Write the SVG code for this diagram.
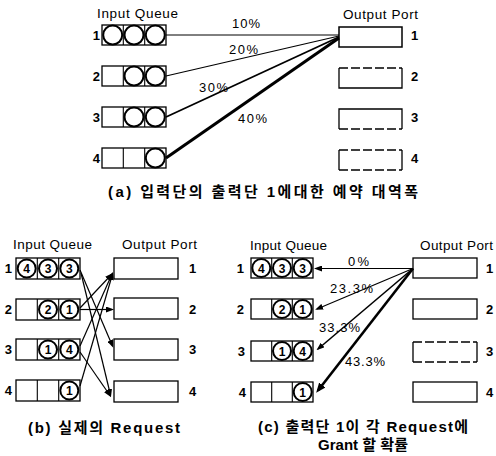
<svg xmlns="http://www.w3.org/2000/svg" width="496" height="456" viewBox="0 0 496 456">
  <style>
    text { font-family: "Liberation Sans", Arial, "Noto Sans CJK KR", sans-serif; fill: #000; }
    .hdr { font-size: 13.5px; }
    .num { font-size: 13px; font-weight: bold; }
    .lnum { font-size: 13px; font-weight: bold; text-anchor: end; }
    .pct { font-size: 13px; }
    .dig { font-size: 12px; font-weight: bold; text-anchor: middle; }
    .cap { font-family: "Liberation Sans", Arial, "Noto Sans CJK KR", sans-serif; font-size: 15px; font-weight: bold; }
    .box { fill: #fff; stroke: #000; stroke-width: 1.3; }
    .div { stroke: #000; stroke-width: 1.1; }
    .cir { fill: #fff; stroke: #000; stroke-width: 2; }
    .edge { fill: none; stroke: #000; stroke-width: 1.3; }
    .dash { fill: none; stroke: #000; stroke-width: 1.3; stroke-dasharray: 9 3; }
    .ln { fill: none; stroke: #000; stroke-linecap: butt; }
  </style>
  <defs>
    <marker id="ah" markerUnits="userSpaceOnUse" markerWidth="8" markerHeight="6" refX="6" refY="3" orient="auto">
      <path d="M0,0 L8,3 L0,6 z" fill="#000"/>
    </marker>
    <marker id="ahL" markerUnits="userSpaceOnUse" markerWidth="10" markerHeight="8" refX="7" refY="4" orient="auto">
      <path d="M0,0 L10,4 L0,8 z" fill="#000"/>
    </marker>
  </defs>

  <!-- ===== (a) reserved bandwidth of inputs toward output 1 ===== -->
  <g id="a-headers">
    <text class="hdr" x="97" y="18" textLength="81" lengthAdjust="spacing">Input Queue</text>
    <text class="hdr" x="343" y="19" textLength="75" lengthAdjust="spacing">Output Port</text>
  </g>

  <g id="a-q1">
    <rect class="box" x="102" y="25" width="64" height="20"/>
    <line class="div" x1="123.3" y1="25" x2="123.3" y2="45"/>
    <line class="div" x1="144.7" y1="25" x2="144.7" y2="45"/>
    <circle class="cir" cx="112.7" cy="35" r="9.5"/>
    <circle class="cir" cx="134" cy="35" r="9.5"/>
    <circle class="cir" cx="155.3" cy="35" r="9.5"/>
    <text class="lnum" x="100" y="40">1</text>
  </g>
  <g id="a-q2">
    <rect class="box" x="102" y="66" width="64" height="20"/>
    <line class="div" x1="123.3" y1="66" x2="123.3" y2="86"/>
    <line class="div" x1="144.7" y1="66" x2="144.7" y2="86"/>
    <circle class="cir" cx="134" cy="76" r="9.5"/>
    <circle class="cir" cx="155.3" cy="76" r="9.5"/>
    <text class="lnum" x="100" y="81">2</text>
  </g>
  <g id="a-q3">
    <rect class="box" x="102" y="107" width="64" height="20"/>
    <line class="div" x1="123.3" y1="107" x2="123.3" y2="127"/>
    <line class="div" x1="144.7" y1="107" x2="144.7" y2="127"/>
    <circle class="cir" cx="134" cy="117" r="9.5"/>
    <circle class="cir" cx="155.3" cy="117" r="9.5"/>
    <text class="lnum" x="100" y="122">3</text>
  </g>
  <g id="a-q4">
    <rect class="box" x="102" y="148" width="64" height="20"/>
    <line class="div" x1="123.3" y1="148" x2="123.3" y2="168"/>
    <line class="div" x1="144.7" y1="148" x2="144.7" y2="168"/>
    <circle class="cir" cx="155.3" cy="158" r="9.5"/>
    <text class="lnum" x="100" y="163">4</text>
  </g>

  <g id="a-p1">
    <rect class="box" x="339" y="27" width="63" height="20" style="stroke-width:1.5"/>
    <text class="num" x="411" y="40">1</text>
  </g>
  <g id="a-p2">
    <path class="edge" d="M339,68 V88 H402 V68"/>
    <path class="dash" d="M339,68 H402"/>
    <text class="num" x="411" y="81">2</text>
  </g>
  <g id="a-p3">
    <path class="edge" d="M339,129 V109 H402 V129"/>
    <path class="dash" d="M339,129 H402"/>
    <text class="num" x="411" y="122">3</text>
  </g>
  <g id="a-p4">
    <path class="edge" d="M339,150 V170 M402,150 V170"/>
    <path class="dash" d="M339,150 H402 M339,170 H402"/>
    <text class="num" x="411" y="163">4</text>
  </g>

  <g id="a-connectors">
    <line class="ln" x1="166" y1="35" x2="339" y2="35" stroke-width="1"/>
    <line class="ln" x1="166" y1="76" x2="339" y2="36" stroke-width="1.2"/>
    <line class="ln" x1="166" y1="117" x2="339" y2="37" stroke-width="1.8"/>
    <line class="ln" x1="166" y1="158" x2="339" y2="38" stroke-width="3"/>
    <text class="pct" x="232" y="28" textLength="28" lengthAdjust="spacing">10%</text>
    <text class="pct" x="229" y="54" textLength="29" lengthAdjust="spacing">20%</text>
    <text class="pct" x="199" y="92" textLength="29" lengthAdjust="spacing">30%</text>
    <text class="pct" x="238" y="123" textLength="29" lengthAdjust="spacing">40%</text>
  </g>

  <text class="cap" x="108" y="197" textLength="310" lengthAdjust="spacing">(a) 입력단의 출력단 1에대한 예약 대역폭</text>

  <!-- ===== (b) actual requests ===== -->
  <g id="b-headers">
    <text class="hdr" x="13" y="249" textLength="79" lengthAdjust="spacing">Input Queue</text>
    <text class="hdr" x="122" y="249" textLength="75" lengthAdjust="spacing">Output Port</text>
  </g>

  <g id="b-q1">
    <rect class="box" x="16" y="258" width="64" height="21"/>
    <line class="div" x1="37.3" y1="258" x2="37.3" y2="279"/>
    <line class="div" x1="58.7" y1="258" x2="58.7" y2="279"/>
    <circle class="cir" cx="26.7" cy="268.5" r="9"/>
    <circle class="cir" cx="48" cy="268.5" r="9"/>
    <circle class="cir" cx="69.3" cy="268.5" r="9"/>
    <text class="dig" x="26.7" y="273">4</text>
    <text class="dig" x="48" y="273">3</text>
    <text class="dig" x="69.3" y="273">3</text>
    <text class="lnum" x="12" y="273">1</text>
  </g>
  <g id="b-q2">
    <rect class="box" x="16" y="299" width="64" height="21"/>
    <line class="div" x1="37.3" y1="299" x2="37.3" y2="320"/>
    <line class="div" x1="58.7" y1="299" x2="58.7" y2="320"/>
    <circle class="cir" cx="48" cy="309.5" r="9"/>
    <circle class="cir" cx="69.3" cy="309.5" r="9"/>
    <text class="dig" x="48" y="314">2</text>
    <text class="dig" x="69.3" y="314">1</text>
    <text class="lnum" x="12" y="314">2</text>
  </g>
  <g id="b-q3">
    <rect class="box" x="16" y="339" width="64" height="21"/>
    <line class="div" x1="37.3" y1="339" x2="37.3" y2="360"/>
    <line class="div" x1="58.7" y1="339" x2="58.7" y2="360"/>
    <circle class="cir" cx="48" cy="349.5" r="9"/>
    <circle class="cir" cx="69.3" cy="349.5" r="9"/>
    <text class="dig" x="48" y="354">1</text>
    <text class="dig" x="69.3" y="354">4</text>
    <text class="lnum" x="12" y="354">3</text>
  </g>
  <g id="b-q4">
    <rect class="box" x="16" y="380" width="64" height="21"/>
    <line class="div" x1="37.3" y1="380" x2="37.3" y2="401"/>
    <line class="div" x1="58.7" y1="380" x2="58.7" y2="401"/>
    <circle class="cir" cx="69.3" cy="390.5" r="9"/>
    <text class="dig" x="69.3" y="395">1</text>
    <text class="lnum" x="12" y="395">4</text>
  </g>

  <g id="b-p1">
    <rect class="box" x="114" y="258" width="64" height="21"/>
    <text class="num" x="189" y="273">1</text>
  </g>
  <g id="b-p2">
    <rect class="box" x="114" y="298" width="64" height="21"/>
    <text class="num" x="189" y="314">2</text>
  </g>
  <g id="b-p3">
    <rect class="box" x="114" y="339" width="64" height="21"/>
    <text class="num" x="189" y="354">3</text>
  </g>
  <g id="b-p4">
    <rect class="box" x="114" y="381" width="64" height="21"/>
    <text class="num" x="189" y="396">4</text>
  </g>

  <g id="b-connectors">
    <line class="ln" x1="80" y1="270" x2="112.5" y2="346" stroke-width="1.2" marker-end="url(#ah)"/>
    <line class="ln" x1="81" y1="273" x2="110.5" y2="395" stroke-width="1.2" marker-end="url(#ah)"/>
    <line class="ln" x1="80" y1="308" x2="111.5" y2="274.5" stroke-width="1.2" marker-end="url(#ah)"/>
    <line class="ln" x1="80" y1="309.5" x2="112" y2="309.5" stroke-width="1.2" marker-end="url(#ah)"/>
    <line class="ln" x1="80" y1="346" x2="112" y2="274" stroke-width="1.2" marker-end="url(#ah)"/>
    <line class="ln" x1="80" y1="352" x2="110" y2="395.5" stroke-width="1.2" marker-end="url(#ah)"/>
    <line class="ln" x1="80" y1="386" x2="112.5" y2="274" stroke-width="1.2" marker-end="url(#ah)"/>
  </g>

  <text class="cap" x="28" y="433" textLength="152" lengthAdjust="spacing">(b) 실제의 Request</text>

  <!-- ===== (c) grant probability of output 1 ===== -->
  <g id="c-headers">
    <text class="hdr" x="250" y="250" textLength="77" lengthAdjust="spacing">Input Queue</text>
    <text class="hdr" x="420" y="250" textLength="73" lengthAdjust="spacing">Output Port</text>
  </g>

  <g id="c-q1">
    <rect class="box" x="251" y="258" width="62" height="20"/>
    <line class="div" x1="271.7" y1="258" x2="271.7" y2="278"/>
    <line class="div" x1="292.3" y1="258" x2="292.3" y2="278"/>
    <circle class="cir" cx="261.3" cy="268" r="9"/>
    <circle class="cir" cx="282" cy="268" r="9"/>
    <circle class="cir" cx="302.7" cy="268" r="9"/>
    <text class="dig" x="261.3" y="272.5">4</text>
    <text class="dig" x="282" y="272.5">3</text>
    <text class="dig" x="302.7" y="272.5">3</text>
    <text class="lnum" x="244" y="273">1</text>
  </g>
  <g id="c-q2">
    <rect class="box" x="251" y="299" width="62" height="20"/>
    <line class="div" x1="271.7" y1="299" x2="271.7" y2="319"/>
    <line class="div" x1="292.3" y1="299" x2="292.3" y2="319"/>
    <circle class="cir" cx="282" cy="309" r="9"/>
    <circle class="cir" cx="302.7" cy="309" r="9"/>
    <text class="dig" x="282" y="313.5">2</text>
    <text class="dig" x="302.7" y="313.5">1</text>
    <text class="lnum" x="244" y="314">2</text>
  </g>
  <g id="c-q3">
    <rect class="box" x="251" y="341" width="62" height="20"/>
    <line class="div" x1="271.7" y1="341" x2="271.7" y2="361"/>
    <line class="div" x1="292.3" y1="341" x2="292.3" y2="361"/>
    <circle class="cir" cx="282" cy="351" r="9"/>
    <circle class="cir" cx="302.7" cy="351" r="9"/>
    <text class="dig" x="282" y="355.5">1</text>
    <text class="dig" x="302.7" y="355.5">4</text>
    <text class="lnum" x="245" y="356">3</text>
  </g>
  <g id="c-q4">
    <rect class="box" x="251" y="382" width="62" height="20"/>
    <line class="div" x1="271.7" y1="382" x2="271.7" y2="402"/>
    <line class="div" x1="292.3" y1="382" x2="292.3" y2="402"/>
    <circle class="cir" cx="302.7" cy="392" r="9"/>
    <text class="dig" x="302.7" y="396.5">1</text>
    <text class="lnum" x="246" y="397">4</text>
  </g>

  <g id="c-p1">
    <rect class="box" x="413" y="258" width="64" height="20"/>
    <text class="num" x="486" y="273">1</text>
  </g>
  <g id="c-p2">
    <rect class="box" x="413" y="299" width="64" height="20"/>
    <text class="num" x="486" y="314">2</text>
  </g>
  <g id="c-p3">
    <path class="edge" d="M413,342 V362 M477,342 V362"/>
    <path class="dash" d="M413,342 H477 M413,362 H477"/>
    <text class="num" x="486" y="356">3</text>
  </g>
  <g id="c-p4">
    <rect class="box" x="413" y="382" width="64" height="20"/>
    <text class="num" x="486" y="397">4</text>
  </g>

  <g id="c-connectors">
    <line class="ln" x1="413" y1="268.5" x2="316" y2="268.5" stroke-width="1" marker-end="url(#ah)"/>
    <line class="ln" x1="413" y1="268.5" x2="317" y2="309" stroke-width="1.2" marker-end="url(#ah)"/>
    <line class="ln" x1="413" y1="268.5" x2="318" y2="349" stroke-width="1.6" marker-end="url(#ah)"/>
    <line class="ln" x1="413" y1="268.5" x2="318" y2="390.5" stroke-width="2.6" marker-end="url(#ahL)"/>
    <text class="pct" x="348" y="266" textLength="21" lengthAdjust="spacing">0%</text>
    <text class="pct" x="330" y="293" textLength="43" lengthAdjust="spacing">23.3%</text>
    <text class="pct" x="319" y="332" textLength="41" lengthAdjust="spacing">33.3%</text>
    <text class="pct" x="345" y="366" textLength="40" lengthAdjust="spacing">43.3%</text>
  </g>

  <text class="cap" x="258" y="432" textLength="210" lengthAdjust="spacing">(c) 출력단 1이 각 Request에</text>
  <text class="cap" x="318" y="450" textLength="90" lengthAdjust="spacing">Grant 할 확률</text>
</svg>
